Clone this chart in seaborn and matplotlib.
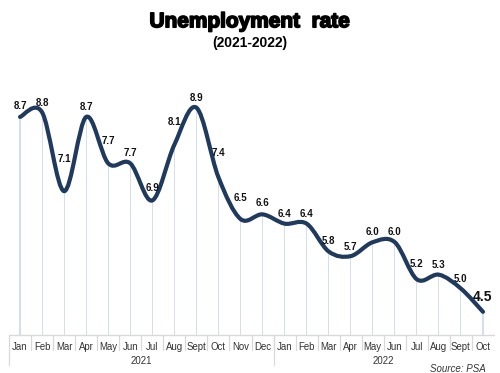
import numpy as np
import pandas as pd
import seaborn as sns
import matplotlib
matplotlib.use("Agg")
import matplotlib.pyplot as plt
from matplotlib.path import Path
from matplotlib.patches import PathPatch
from matplotlib.lines import Line2D
import matplotlib.patheffects as pe

months = ["Jan", "Feb", "Mar", "Apr", "May", "Jun", "Jul", "Aug", "Sept", "Oct", "Nov", "Dec",
          "Jan", "Feb", "Mar", "Apr", "May", "Jun", "Jul", "Aug", "Sept", "Oct"]
years = ["2021", "2022"]
year_counts = [12, 10]
rates = [8.7, 8.8, 7.1, 8.7, 7.7, 7.7, 6.9, 8.1, 8.9, 7.4, 6.5, 6.6,
         6.4, 6.4, 5.8, 5.7, 6.0, 6.0, 5.2, 5.3, 5.0, 4.5]
title = "Unemployment  rate"
subtitle = "(2021-2022)"
source = "Source: PSA"

# label offsets above each point, in pixels (layout only)
label_offsets = [11, 9, 32, 9.5, 22, 10, 12, 23, 10, 24, 21, 11,
                 10, 10, 10, 9.5, 10, 10, 15, 10, 10, 15]

LINE = "#1f3a5c"
DROP = "#d3dfec"
SEP = "#d9d9d9"
TXT = "#333333"

sns.set_theme(style="white")
plt.rcParams["font.family"] = ["Liberation Sans", "DejaVu Sans"]

W, H = 500, 373
fig = plt.figure(figsize=(W / 100, H / 100), dpi=100)
ax_left, ax_right, ax_bottom_px, ax_top_px = 9, 494, 335, 56.6
ax = fig.add_axes([ax_left / W, 1 - ax_bottom_px / H,
                   (ax_right - ax_left) / W, (ax_bottom_px - ax_top_px) / H])
axh = ax_bottom_px - ax_top_px

n = len(rates)
df = pd.DataFrame({"idx": np.arange(n), "rate": rates})

# drop lines as very thin bars
sns.barplot(data=df, x="idx", y="rate", width=0.05, color=DROP,
            linewidth=0, saturation=1, ax=ax, zorder=1)

# smooth curve (Catmull-Rom as cubic Bezier)
pts = np.column_stack([np.arange(n, dtype=float), np.array(rates, dtype=float)])
ext = np.vstack([pts[0], pts, pts[-1]])
verts = [tuple(pts[0])]
codes = [Path.MOVETO]
for i in range(n - 1):
    p0, p1, p2, p3 = ext[i], ext[i + 1], ext[i + 2], ext[i + 3]
    c1 = p1 + (p2 - p0) / 6.0
    c2 = p2 - (p3 - p1) / 6.0
    verts += [tuple(c1), tuple(c2), tuple(p2)]
    codes += [Path.CURVE4] * 3
patch = PathPatch(Path(verts, codes), fill=False, edgecolor=LINE, lw=3.0,
                  capstyle="round", joinstyle="round", zorder=3)
ax.add_patch(patch)

ax.set_xlim(-0.5, n - 0.5)
ax.set_ylim(4.0, 10.0)
ax.set_yticks([])
ax.set_ylabel("")
ax.set_xlabel("")
for s in ax.spines.values():
    s.set_visible(False)

# value labels
for i, (v, off) in enumerate(zip(rates, label_offsets)):
    last = i == n - 1
    ax.annotate(f"{v:.1f}", (i, v), xytext=(0, off), textcoords="offset pixels",
                ha="center", va="center", fontsize=10 if last else 7,
                fontweight="bold", color="#111111", zorder=4)

# month tick labels
ax.set_xticks(range(n))
ax.set_xticklabels(months, fontsize=6.9, color=TXT)
ax.tick_params(axis="x", length=0, pad=5.0)

tr = ax.get_xaxis_transform()
def ay(px):
    return -(px - ax_bottom_px) / axh

# baseline
ax.add_line(Line2D([-0.5, n - 0.5], [0, 0], transform=tr, color=SEP, lw=1.0, clip_on=False, zorder=2))
# month separators
for k in range(n - 1):
    ax.add_line(Line2D([k + 0.5, k + 0.5], [0, ay(350)], transform=tr, color=SEP, lw=0.9, clip_on=False))
# year separators and labels
start = 0
for yname, cnt in zip(years, year_counts):
    ax.add_line(Line2D([start - 0.5, start - 0.5], [0, ay(365)], transform=tr, color=SEP, lw=0.9, clip_on=False))
    ax.text(start + (cnt - 1) / 2, ay(361), yname, transform=tr, ha="center", va="center",
            fontsize=6.9, color=TXT)
    start += cnt

fig.text(0.5, 1 - 21.7 / H, title, ha="center", va="center", fontsize=15,
         fontweight="bold", color="black",
         path_effects=[pe.withStroke(linewidth=1.2, foreground="black")])
fig.text(0.5, 1 - 43.5 / H, subtitle, ha="center", va="center", fontsize=10,
         fontweight="bold", color="black")
fig.text(486 / W, 1 - 369 / H, source, ha="right", va="center", fontsize=7,
         style="italic", color=TXT)

fig.savefig("out.png", dpi=100)
